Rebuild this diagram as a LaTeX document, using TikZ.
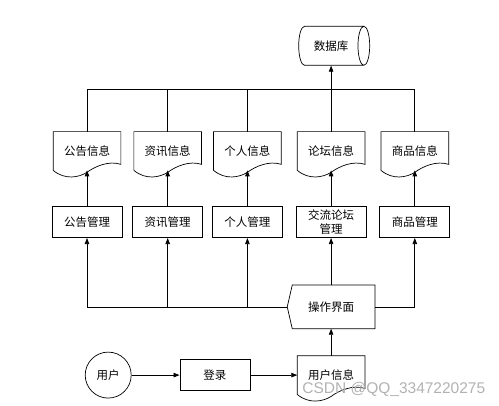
\documentclass[tikz,border=0pt]{standalone}
\usepackage{fontspec}
\newfontfamily\cjk{Noto Sans CJK SC}
\setmainfont{Liberation Sans}
\usetikzlibrary{positioning, calc, arrows.meta, shapes.geometric}

\tikzset{
    txt/.style={font=\cjk\fontsize{11.5}{14}\selectfont, inner sep=0pt},
    docbox/.style={txt, minimum width=67pt, minimum height=38pt},
    box/.style={txt, draw, minimum width=70pt, minimum height=31pt, align=center},
    arr/.style={-{Triangle[length=6pt, width=4.5pt]}},
}

\begin{document}
\begin{tikzpicture}[x=1pt, y=-1pt, line width=0.7pt]
    \useasboundingbox (0,0) rectangle (499,406);

    % documents
    \node[docbox] (ggxx) at (87,151) {公告信息};
    \node[docbox, right=13pt of ggxx] (zxxx) {资讯信息};
    \node[docbox, right=12pt of zxxx] (grxx) {个人信息};
    \node[docbox, right=16pt of grxx] (ltxx) {论坛信息};
    \node[docbox, right=16pt of ltxx] (spxx) {商品信息};

    \node[txt, draw, cylinder, aspect=1.1, minimum height=71pt, minimum width=39pt, above=66pt of ltxx] (sjk) {数据库};

    % management
    \node[box, below=36pt of ggxx] (gggl) {公告管理};
    \node[box, below=36pt of zxxx] (zxgl) {资讯管理};
    \node[box, below=36pt of grxx] (grgl) {个人管理};
    \node[box, below=36pt of ltxx] (ltgl) {交流论坛\\管理};
    \node[box, below=36pt of spxx] (spgl) {商品管理};

    \node[txt, minimum width=87pt, minimum height=43pt, below=47pt of ltgl] (czjm) {操作界面};
    \node[docbox, below=27pt of czjm] (yhxx) {用户信息};
    \node[box, left=47pt of yhxx] (dl) {登录};
    \node[txt, draw, circle, minimum size=46pt, left=48pt of dl] (yh) {用户};

    \draw (czjm.north east) -- (czjm.south east) -- ($(czjm.south west)+(5,0)$) -- (czjm.west)
        -- ($(czjm.north west)+(5,0)$) -- cycle;

    \foreach \n in {ggxx,zxxx,grxx,ltxx,spxx,yhxx} {
        \draw (\n.north west) -- (\n.north east) -- ($(\n.south east)+(0,-6)$)
            .. controls ($(\n.south east)+(-12,-10)$) and ($(\n.south)+(8,-4)$) .. ($(\n.south)+(0,2)$)
            .. controls ($(\n.south)+(-8,7)$) and ($(\n.south west)+(12,10)$) .. (\n.south west) -- cycle;
    }

    % to database
    \coordinate (top) at ($(ggxx.north)+(0,-42)$);
    \draw (ggxx.north) -- (top) -- (top -| spxx.north) -- (spxx.north);
    \draw (zxxx.north) -- (zxxx.north |- top);
    \draw (grxx.north) -- (grxx.north |- top);
    \draw[arr] (ltxx.north) -- (ltxx.north |- sjk.south);

    \foreach \n in {gg,zx,gr,lt,sp}
        \draw[arr] (\n gl.north) -- (\n xx.south);

    % from interface
    \draw (czjm.west) -- (czjm.west -| gggl.south);
    \foreach \b in {gggl,zxgl,grgl}
        \draw[arr] (czjm.west -| \b.south) -- (\b.south);
    \draw[arr] (czjm.east) -| (spgl.south);
    \draw[arr] (czjm.north) -- (ltgl.south);

    \draw[arr] (yh) -- (dl);
    \draw[arr] (dl) -- (yhxx);
    \draw[arr] (yhxx.north) -- (czjm.south);

    \node[font=\fontsize{15.5}{18}\selectfont, text=gray!60, inner sep=0pt, anchor=west] (wm) at (302,389) {CSDN @QQ\_3347220275};

\end{tikzpicture}
\end{document}
